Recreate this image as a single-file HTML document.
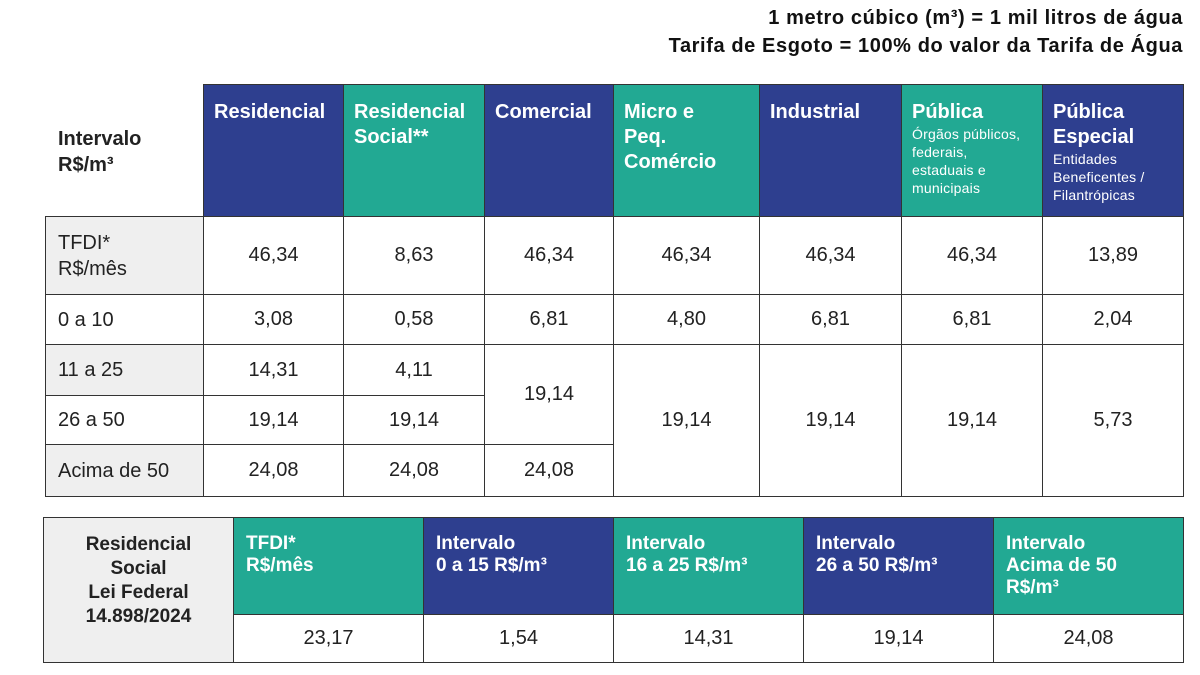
<!DOCTYPE html>
<html><head><meta charset="utf-8"><style>
body{margin:0;width:1200px;height:675px;background:#fff;position:relative;overflow:hidden;font-family:"Liberation Sans",Arial,sans-serif;color:#222}
.c{position:absolute;box-sizing:border-box;border:1px solid #333;display:flex;align-items:center;justify-content:center;font-size:20px;letter-spacing:0}
.h{color:#fff;font-weight:bold;align-items:flex-start;justify-content:flex-start;padding:15px 10px;font-size:20px;line-height:25px;letter-spacing:0}
.n{background:#2e3f8f}.t{background:#22a993}
.g{background:#efefef}
.l{justify-content:flex-start;padding-left:12px;line-height:26px}
.s{font-weight:normal;font-size:14px;line-height:18px;display:block;letter-spacing:0.2px}
.tt{position:absolute;right:17px;font-weight:bold;font-size:20px;color:#111;letter-spacing:0.6px}
.b{padding:15px 12px;line-height:22px;font-size:19px}
</style></head><body>
<div class="tt" style="top:7px">1 metro cúbico (m³) = 1 mil litros de água</div>
<div class="tt" style="top:35px">Tarifa de Esgoto = 100% do valor da Tarifa de Água</div>

<div style="position:absolute;left:58px;top:126px;font-weight:bold;font-size:20px;line-height:26px">Intervalo<br>R$/m³</div>

<div class="c h n" style="left:203px;top:84px;width:141px;height:133px">Residencial</div>
<div class="c h t" style="left:343px;top:84px;width:142px;height:133px">Residencial<br>Social**</div>
<div class="c h n" style="left:484px;top:84px;width:130px;height:133px">Comercial</div>
<div class="c h t" style="left:613px;top:84px;width:147px;height:133px">Micro e<br>Peq.<br>Comércio</div>
<div class="c h n" style="left:759px;top:84px;width:143px;height:133px">Industrial</div>
<div class="c h t" style="left:901px;top:84px;width:142px;height:133px"><div>Pública<span class="s">Órgãos públicos, federais, estaduais e municipais</span></div></div>
<div class="c h n" style="left:1042px;top:84px;width:142px;height:133px;line-height:25px"><div>Pública<br>Especial<span class="s">Entidades Beneficentes / Filantrópicas</span></div></div>

<div class="c g l" style="left:45px;top:216px;width:159px;height:79px">TFDI*<br>R$/mês</div>
<div class="c l" style="left:45px;top:294px;width:159px;height:51px">0 a 10</div>
<div class="c g l" style="left:45px;top:344px;width:159px;height:52px">11 a 25</div>
<div class="c l" style="left:45px;top:395px;width:159px;height:50px">26 a 50</div>
<div class="c g l" style="left:45px;top:444px;width:159px;height:53px">Acima de 50</div>

<div class="c" style="left:203px;top:216px;width:141px;height:79px">46,34</div>
<div class="c" style="left:343px;top:216px;width:142px;height:79px">8,63</div>
<div class="c" style="left:484px;top:216px;width:130px;height:79px">46,34</div>
<div class="c" style="left:613px;top:216px;width:147px;height:79px">46,34</div>
<div class="c" style="left:759px;top:216px;width:143px;height:79px">46,34</div>
<div class="c" style="left:901px;top:216px;width:142px;height:79px">46,34</div>
<div class="c" style="left:1042px;top:216px;width:142px;height:79px">13,89</div>
<div class="c" style="left:203px;top:294px;width:141px;height:51px">3,08</div>
<div class="c" style="left:343px;top:294px;width:142px;height:51px">0,58</div>
<div class="c" style="left:484px;top:294px;width:130px;height:51px">6,81</div>
<div class="c" style="left:613px;top:294px;width:147px;height:51px">4,80</div>
<div class="c" style="left:759px;top:294px;width:143px;height:51px">6,81</div>
<div class="c" style="left:901px;top:294px;width:142px;height:51px">6,81</div>
<div class="c" style="left:1042px;top:294px;width:142px;height:51px">2,04</div>
<div class="c" style="left:203px;top:344px;width:141px;height:52px">14,31</div>
<div class="c" style="left:343px;top:344px;width:142px;height:52px">4,11</div>
<div class="c" style="left:203px;top:395px;width:141px;height:50px">19,14</div>
<div class="c" style="left:343px;top:395px;width:142px;height:50px">19,14</div>
<div class="c" style="left:484px;top:344px;width:130px;height:101px">19,14</div>
<div class="c" style="left:613px;top:344px;width:147px;height:153px">19,14</div>
<div class="c" style="left:759px;top:344px;width:143px;height:153px">19,14</div>
<div class="c" style="left:901px;top:344px;width:142px;height:153px">19,14</div>
<div class="c" style="left:1042px;top:344px;width:142px;height:153px">5,73</div>
<div class="c" style="left:203px;top:444px;width:141px;height:53px">24,08</div>
<div class="c" style="left:343px;top:444px;width:142px;height:53px">24,08</div>
<div class="c" style="left:484px;top:444px;width:130px;height:53px">24,08</div>

<div class="c g" style="left:43px;top:517px;width:191px;height:146px;align-items:flex-start;padding-top:15px;text-align:center;font-weight:bold;line-height:24px;font-size:19px">Residencial<br>Social<br>Lei Federal<br>14.898/2024</div>
<div class="c h t b" style="left:233px;top:517px;width:191px;height:98px">TFDI*<br>R$/mês</div>
<div class="c h n b" style="left:423px;top:517px;width:191px;height:98px">Intervalo<br>0 a 15 R$/m³</div>
<div class="c h t b" style="left:613px;top:517px;width:191px;height:98px">Intervalo<br>16 a 25 R$/m³</div>
<div class="c h n b" style="left:803px;top:517px;width:191px;height:98px">Intervalo<br>26 a 50 R$/m³</div>
<div class="c h t b" style="left:993px;top:517px;width:191px;height:98px">Intervalo<br>Acima de 50<br>R$/m³</div>
<div class="c" style="left:233px;top:614px;width:191px;height:49px">23,17</div>
<div class="c" style="left:423px;top:614px;width:191px;height:49px">1,54</div>
<div class="c" style="left:613px;top:614px;width:191px;height:49px">14,31</div>
<div class="c" style="left:803px;top:614px;width:191px;height:49px">19,14</div>
<div class="c" style="left:993px;top:614px;width:191px;height:49px">24,08</div>
</body></html>
